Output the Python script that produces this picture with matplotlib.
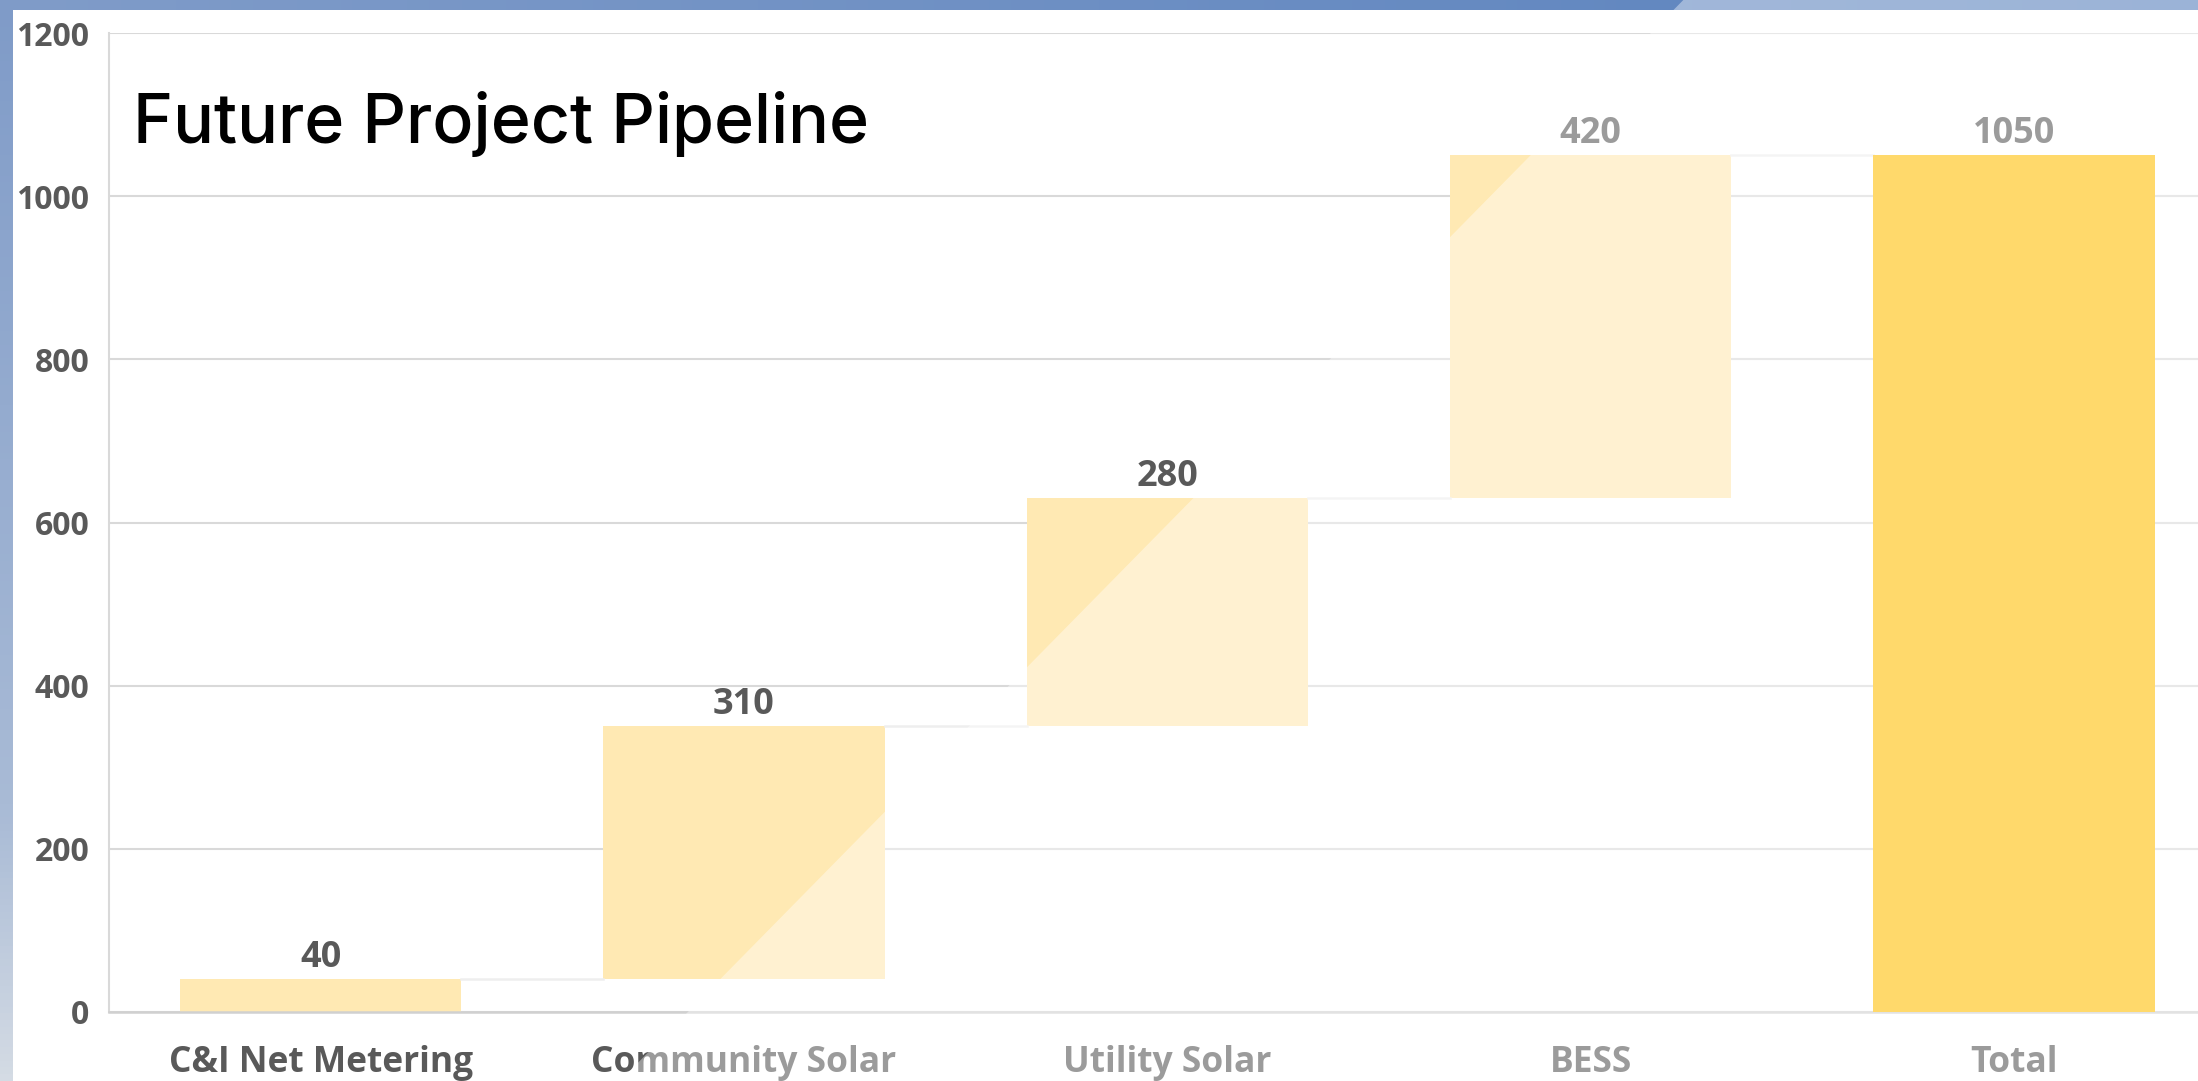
import matplotlib
matplotlib.use("Agg")
import matplotlib.pyplot as plt
from matplotlib.patches import Polygon
import numpy as np


categories = ["C&I Net Metering", "Community Solar", "Utility Solar", "BESS", "Total"]
increments = [40, 310, 280, 420]
total = 1050
y_ticks = [0, 200, 400, 600, 800, 1000, 1200]
title = "Future Project Pipeline"

W, H = 2198, 1081
fig = plt.figure(figsize=(W / 100, H / 100), dpi=100)
fig.patch.set_facecolor("white")

# background frame (blue bands on left and top), pixel coordinates
bg = fig.add_axes([0, 0, 1, 1], zorder=-1)
bg.axis("off")


def gradient(c1, c2, n):
    c1 = np.array(matplotlib.colors.to_rgb(c1))
    c2 = np.array(matplotlib.colors.to_rgb(c2))
    t = np.linspace(0, 1, n)[:, None]
    return c1 * (1 - t) + c2 * t


top = gradient("#809cc9", "#5a82be", 200)[None, :, :]
bg.imshow(top, extent=(0, W, 10, 0), aspect="auto")
left = np.concatenate([gradient("#7f9bc8", "#a9bbd6", 120),
                       gradient("#a9bbd6", "#d4dbe4", 40)])[:, None, :]
bg.imshow(left, extent=(0, 13, H, 0), aspect="auto")
bg.set_xlim(0, W)
bg.set_ylim(H, 0)

# main chart
ax = fig.add_axes([109 / W, (H - 1012) / H, 1 - 109 / W, (1012 - 33) / H])
ax.set_facecolor("white")
ax.set_axisbelow(True)

x = np.arange(len(categories))
ends = np.cumsum(increments)
starts = ends - np.array(increments)
width = 0.665

ax.bar(x[:-1], increments, bottom=starts, width=width, color="#ffe9b3", zorder=1)
ax.bar(x[-1], total, width=width, color="#ffd96b", zorder=5)

# connector lines
for i in range(len(increments)):
    ax.plot([x[i] + width / 2, x[i + 1] - width / 2], [ends[i], ends[i]],
            color="#eeeeee", lw=1.8, zorder=1)

label_font = dict(family="Open Sans", weight="bold", color="#595959")
for xi, v, top_v in zip(x, increments + [total], list(ends) + [total]):
    ax.annotate(str(v), (xi, top_v), xytext=(0, 9), textcoords="offset points",
                ha="center", va="baseline", fontsize=26, zorder=3, **label_font)

ax.set_xlim(-0.5, 4 + (W - 2014) / 423)
ax.set_ylim(0, 1200)
ax.set_yticks(y_ticks)
ax.set_xticks(x)
ax.set_xticklabels(categories)
ax.tick_params(axis="x", length=0, pad=24, labelsize=25.5, labelcolor="#595959")
ax.tick_params(axis="y", length=0, pad=14, labelsize=23, labelcolor="#595959")
for lab in ax.get_xticklabels() + ax.get_yticklabels():
    lab.set_family("Open Sans")
    lab.set_weight("bold")

ax.grid(axis="y", color="#d9d9d9", lw=1.5)
for s in ["top", "right"]:
    ax.spines[s].set_visible(False)
ax.spines["left"].set_color("#d9d9d9")
ax.spines["left"].set_linewidth(1.5)
ax.spines["bottom"].set_color("#d0d0d0")
ax.spines["bottom"].set_linewidth(1.8)

# translucent white overlay with a 45 degree edge (pixel coordinates)
overlay = Polygon([(1703, -20), (2400, -20), (2400, 1200), (503, 1200)],
                  closed=True, transform=bg.transData, facecolor="white",
                  edgecolor="none", alpha=0.4, zorder=4, clip_on=False)
ax.add_artist(overlay)

fig.text(133 / W, 1 - 143 / H, title, fontsize=49, family="Inter",
         weight="medium", color="black", ha="left", va="baseline")

fig.savefig("out.png", dpi=100)
